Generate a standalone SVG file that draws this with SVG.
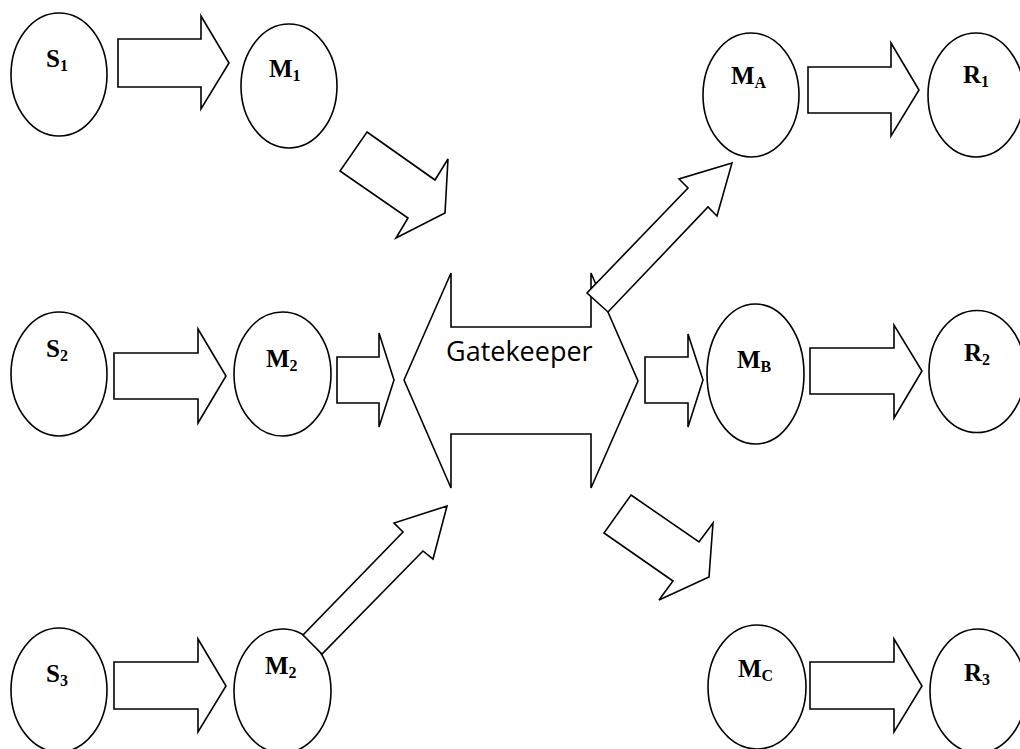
<svg xmlns="http://www.w3.org/2000/svg" width="1020" height="749" viewBox="0 0 1020 749">
<style>
.n{fill:#fff;stroke:#000;stroke-width:1.6}
.a{fill:#fff;stroke:#000;stroke-width:1.6;stroke-linejoin:miter}
.t{font-family:"Liberation Serif","Times New Roman",serif;font-weight:bold;font-size:25px;fill:#000}
.s{font-size:16px}
.g{font-family:"Open Sans","Noto Sans",sans-serif;font-size:27px;fill:#000}
</style>
<rect width="1020" height="749" fill="#fff"/>
<g id="S1"><ellipse class="n" cx="59" cy="74.5" rx="48" ry="61.5"/><text class="t" x="46" y="67">S<tspan class="s" dy="4">1</tspan></text></g>
<g id="M1"><ellipse class="n" cx="289" cy="86" rx="48" ry="62"/><text class="t" x="269" y="77">M<tspan class="s" dy="4">1</tspan></text></g>
<g id="MA"><ellipse class="n" cx="751" cy="95" rx="48" ry="62"/><text class="t" x="731" y="84">M<tspan class="s" dy="4">A</tspan></text></g>
<g id="R1"><ellipse class="n" cx="976" cy="95" rx="48" ry="62"/><text class="t" x="963" y="83">R<tspan class="s" dy="4">1</tspan></text></g>
<g id="S2"><ellipse class="n" cx="59" cy="374" rx="48" ry="62"/><text class="t" x="46" y="357">S<tspan class="s" dy="4">2</tspan></text></g>
<g id="M2a"><ellipse class="n" cx="282.5" cy="374" rx="48.5" ry="62"/><text class="t" x="266" y="367">M<tspan class="s" dy="4">2</tspan></text></g>
<g id="MB"><ellipse class="n" cx="755.5" cy="374" rx="48.5" ry="70"/><text class="t" x="737" y="368">M<tspan class="s" dy="4">B</tspan></text></g>
<g id="R2"><ellipse class="n" cx="977" cy="371.5" rx="48" ry="61"/><text class="t" x="964" y="361">R<tspan class="s" dy="4">2</tspan></text></g>
<g id="S3"><ellipse class="n" cx="59" cy="690" rx="48" ry="62"/><text class="t" x="46" y="682">S<tspan class="s" dy="4">3</tspan></text></g>
<g id="M2b"><ellipse class="n" cx="282.5" cy="691" rx="48.5" ry="62"/><text class="t" x="265" y="674">M<tspan class="s" dy="4">2</tspan></text></g>
<g id="MC"><ellipse class="n" cx="757" cy="687" rx="49" ry="62"/><text class="t" x="738" y="677">M<tspan class="s" dy="4">C</tspan></text></g>
<g id="R3"><ellipse class="n" cx="978" cy="691" rx="48" ry="62"/><text class="t" x="964" y="681">R<tspan class="s" dy="4">3</tspan></text></g>
<g id="Gatekeeper"><polygon class="a" points="404,380 451,273 451,327 591,327 591,273 638,381 591,488 591,434 451,434 451,488"/><text class="g" x="446" y="361">Gatekeeper</text></g>
<g id="connectors">
<polygon class="a" points="118,39 201,39 201,16 229,63 201,109 201,87 118,87"/>
<polygon class="a" points="114,353 198,353 198,329 226,376 198,423 198,399 114,399"/>
<polygon class="a" points="337,357 379,357 379,333 394,380 379,427 379,403 337,403"/>
<polygon class="a" points="645,357 688,357 688,334 703,380 688,427 688,403 645,403"/>
<polygon class="a" points="808,67 891,67 891,43 919,90 891,136 891,113 808,113"/>
<polygon class="a" points="810,348 894,348 894,325 922,371 894,418 894,394 810,394"/>
<polygon class="a" points="114,662 198,662 198,639 226,686 198,732 198,709 114,709"/>
<polygon class="a" points="810,662 894,662 894,639 922,686 894,732 894,709 810,709"/>
<polygon class="a" points="367,132 435,180 448,159 445,213 396,238 408,218 340,171"/>
<polygon class="a" points="732,163 679,179 688,188 587,293 608,312 708,207 717,216"/>
<polygon class="a" points="447,506 394,523 403,532 303,635 322,654 423,551 433,559"/>
<polygon class="a" points="631,495 699,542 713,523 709,577 659,600 673,581 604,533"/>
</g>
</svg>
